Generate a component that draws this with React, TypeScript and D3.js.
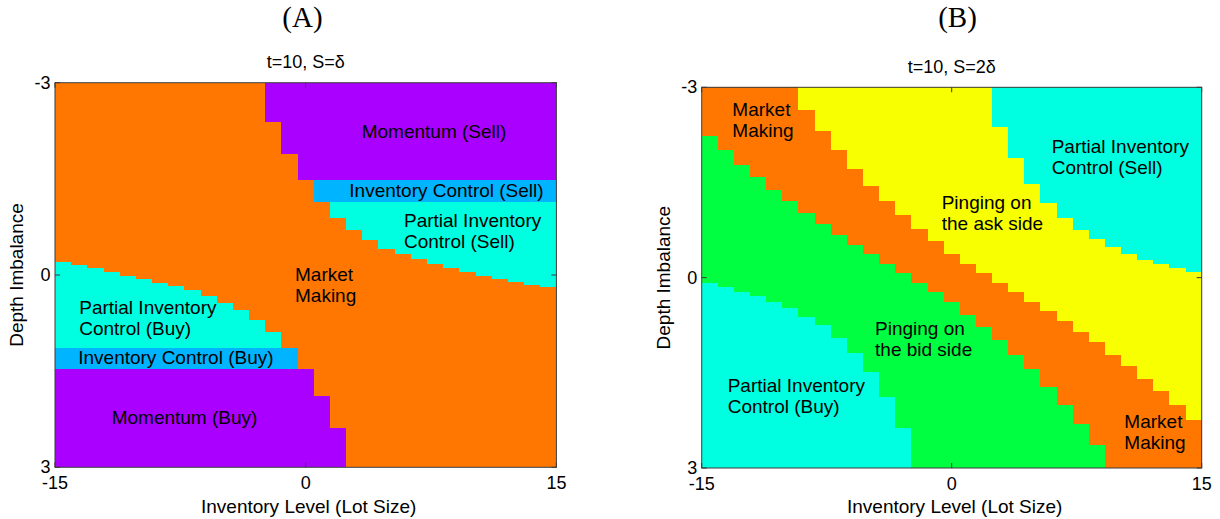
import React from "react";
import * as d3 from "d3";

// Inventory levels (lots) along the horizontal axis, one column each
const inventoryLevels = [
  -15, -14, -13, -12, -11, -10, -9, -8, -7, -6, -5, -4, -3, -2, -1, 0,
  1, 2, 3, 4, 5, 6, 7, 8, 9, 10, 11, 12, 13, 14, 15,
];
const inventoryTicks = [-15, 0, 15];
const depthTicks = [-3, 0, 3];

// Panel A (t=10, S=δ): lower depth-imbalance edge of each regime, per inventory level
const aMomentumSellEnd = [
  -3, -3, -3, -3, -3, -3, -3, -3, -3, -3, -3, -3, -3, -2.38, -1.88, -1.48,
  -1.48, -1.48, -1.48, -1.48, -1.48, -1.48, -1.48, -1.48, -1.48, -1.48, -1.48, -1.48, -1.48, -1.48, -1.48,
];
const aInvControlSellEnd = [
  -3, -3, -3, -3, -3, -3, -3, -3, -3, -3, -3, -3, -3, -2.38, -1.88, -1.48,
  -1.14, -1.14, -1.14, -1.14, -1.14, -1.14, -1.14, -1.14, -1.14, -1.14, -1.14, -1.14, -1.14, -1.14, -1.14,
];
const aPartialSellEnd = [
  -3, -3, -3, -3, -3, -3, -3, -3, -3, -3, -3, -3, -3, -2.38, -1.88, -1.48,
  -1.14, -0.89, -0.7, -0.55, -0.41, -0.32, -0.25, -0.17, -0.11, -0.04, 0.01, 0.06, 0.11, 0.15, 0.19,
];
const aMarketMakingEnd = [
  -0.2, -0.15, -0.11, -0.05, 0.01, 0.06, 0.12, 0.17, 0.24, 0.33, 0.43, 0.55, 0.7, 0.89, 1.14, 1.47,
  1.88, 2.38, 3, 3, 3, 3, 3, 3, 3, 3, 3, 3, 3, 3, 3,
];
const aPartialBuyEnd = [
  1.14, 1.14, 1.14, 1.14, 1.14, 1.14, 1.14, 1.14, 1.14, 1.14, 1.14, 1.14, 1.14, 1.14, 1.14, 1.47,
  1.88, 2.38, 3, 3, 3, 3, 3, 3, 3, 3, 3, 3, 3, 3, 3,
];
const aInvControlBuyEnd = [
  1.47, 1.47, 1.47, 1.47, 1.47, 1.47, 1.47, 1.47, 1.47, 1.47, 1.47, 1.47, 1.47, 1.47, 1.47, 1.47,
  1.88, 2.38, 3, 3, 3, 3, 3, 3, 3, 3, 3, 3, 3, 3, 3,
];

// Panel B (t=10, S=2δ)
const bPartialSellEnd = [
  -3, -3, -3, -3, -3, -3, -3, -3, -3, -3, -3, -3, -3, -3, -3, -3, -3, -3,
  -2.38, -1.88, -1.48, -1.18, -0.94, -0.75, -0.61, -0.48, -0.37, -0.28, -0.21, -0.15, -0.09,
];
const bPingAskEnd = [
  -3, -3, -3, -3, -3, -3, -2.64, -2.31, -2.01, -1.71, -1.45, -1.21, -0.98, -0.77, -0.58, -0.38,
  -0.22, -0.08, 0.09, 0.22, 0.39, 0.52, 0.68, 0.85, 1.02, 1.22, 1.39, 1.59, 1.78, 2.01, 2.24,
];
const bMarketMakingEnd = [
  -2.24, -2.01, -1.78, -1.58, -1.38, -1.21, -1.02, -0.84, -0.67, -0.51, -0.37, -0.21, -0.08, 0.09, 0.22, 0.38,
  0.59, 0.78, 0.98, 1.22, 1.44, 1.72, 2.01, 2.31, 2.64, 3, 3, 3, 3, 3, 3,
];
const bPingBidEnd = [
  0.09, 0.15, 0.22, 0.29, 0.38, 0.48, 0.62, 0.75, 0.95, 1.18, 1.48, 1.88, 2.37, 3, 3, 3,
  3, 3, 3, 3, 3, 3, 3, 3, 3, 3, 3, 3, 3, 3, 3,
];

const COLORS = {
  momentum: "#aa00ff",
  invControl: "#00b4ff",
  partial: "#00ffe1",
  market: "#ff7700",
  pingAsk: "#f7ff00",
  pingBid: "#00ff40",
};

type Regime = { color: string; end: number[] | null };
type Label = { lines: string[]; inv: number; depth: number };

type PanelSpec = {
  letter: string;
  title: string;
  box: { left: number; top: number; width: number; height: number };
  letterX: number;
  regimes: Regime[];
  labels: Label[];
};

const panels: PanelSpec[] = [
  {
    letter: "(A)",
    title: "t=10, S=δ",
    box: { left: 55, top: 82.7, width: 501.4, height: 384.6 },
    letterX: 302.5,
    regimes: [
      { color: COLORS.momentum, end: aMomentumSellEnd },
      { color: COLORS.invControl, end: aInvControlSellEnd },
      { color: COLORS.partial, end: aPartialSellEnd },
      { color: COLORS.market, end: aMarketMakingEnd },
      { color: COLORS.partial, end: aPartialBuyEnd },
      { color: COLORS.invControl, end: aInvControlBuyEnd },
      { color: COLORS.momentum, end: null },
    ],
    labels: [
      { lines: ["Momentum (Sell)"], inv: 3.35, depth: -2.14 },
      { lines: ["Inventory Control (Sell)"], inv: 2.61, depth: -1.22 },
      { lines: ["Partial Inventory", "Control (Sell)"], inv: 5.88, depth: -0.75 },
      { lines: ["Market", "Making"], inv: -0.64, depth: 0.1 },
      { lines: ["Partial Inventory", "Control (Buy)"], inv: -13.55, depth: 0.61 },
      { lines: ["Inventory Control (Buy)"], inv: -13.61, depth: 1.39 },
      { lines: ["Momentum (Buy)"], inv: -11.61, depth: 2.32 },
    ],
  },
  {
    letter: "(B)",
    title: "t=10, S=2δ",
    box: { left: 701.7, top: 87.3, width: 500, height: 380.7 },
    letterX: 957.5,
    regimes: [
      { color: COLORS.partial, end: bPartialSellEnd },
      { color: COLORS.pingAsk, end: bPingAskEnd },
      { color: COLORS.market, end: bMarketMakingEnd },
      { color: COLORS.pingBid, end: bPingBidEnd },
      { color: COLORS.partial, end: null },
    ],
    labels: [
      { lines: ["Market", "Making"], inv: -13.16, depth: -2.55 },
      { lines: ["Partial Inventory", "Control (Sell)"], inv: 6.0, depth: -1.96 },
      { lines: ["Pinging on", "the ask side"], inv: -0.6, depth: -1.08 },
      { lines: ["Pinging on", "the bid side"], inv: -4.6, depth: 0.9 },
      { lines: ["Partial Inventory", "Control (Buy)"], inv: -13.44, depth: 1.8 },
      { lines: ["Market", "Making"], inv: 10.36, depth: 2.37 },
    ],
  },
];

const SANS = "'Liberation Sans', Arial, Helvetica, sans-serif";
const SERIF = "'Liberation Serif', 'Times New Roman', serif";
const FRAME = "#3a3a3a";
const TICK_LEN = 5;

function Panel({ spec }: { spec: PanelSpec }) {
  const { left, top, width, height } = spec.box;
  const right = left + width;
  const bottom = top + height;

  const xBand = d3
    .scaleBand<number>()
    .domain(inventoryLevels)
    .range([left, right])
    .paddingInner(0)
    .paddingOuter(0);
  const xAxis = d3.scaleLinear().domain([-15, 15]).range([left, right]);
  const y = d3.scaleLinear().domain([-3, 3]).range([top, bottom]);
  const bw = xBand.bandwidth();
  const [yMin, yMax] = y.domain();

  type Pt = { x: number; y0: number; y1: number };
  const area = d3
    .area<Pt>()
    .x((d) => d.x)
    .y0((d) => d.y0)
    .y1((d) => d.y1)
    .curve(d3.curveStepAfter);

  let prev: number[] = inventoryLevels.map(() => yMin);
  const paths = spec.regimes.map((r, i) => {
    const upper = prev;
    const lower = r.end ?? inventoryLevels.map(() => yMax);
    prev = lower;
    const pts: Pt[] = inventoryLevels.map((lvl, j) => ({
      x: xBand(lvl) as number,
      y0: y(lower[j]),
      y1: y(upper[j]),
    }));
    const lastIdx = inventoryLevels.length - 1;
    pts.push({
      x: (xBand(inventoryLevels[lastIdx]) as number) + bw,
      y0: y(lower[lastIdx]),
      y1: y(upper[lastIdx]),
    });
    return (
      <path
        key={i}
        d={area(pts) ?? ""}
        fill={r.color}
        shapeRendering="crispEdges"
      />
    );
  });

  const midX = (left + right) / 2;
  const midY = (top + bottom) / 2;

  return (
    <g>
      <text
        x={spec.letterX}
        y={27}
        textAnchor="middle"
        fontFamily={SERIF}
        fontSize={29}
        fill="#000"
      >
        {spec.letter}
      </text>
      <text
        x={midX}
        y={top - 14.4}
        textAnchor="middle"
        fontFamily={SANS}
        fontSize={18}
        fill="#000"
      >
        {spec.title}
      </text>

      {paths}

      {spec.labels.map((lb, i) => (
        <text
          key={i}
          x={xAxis(lb.inv)}
          y={y(lb.depth)}
          fontFamily={SANS}
          fontSize={19}
          fill="#000"
        >
          {lb.lines.map((ln, k) => (
            <tspan key={k} x={xAxis(lb.inv)} dy={k === 0 ? 0 : 21}>
              {ln}
            </tspan>
          ))}
        </text>
      ))}

      <rect
        x={left}
        y={top}
        width={width}
        height={height}
        fill="none"
        stroke={FRAME}
        strokeWidth={1}
      />

      {inventoryTicks.map((t) => (
        <g key={"xt" + t}>
          <line x1={xAxis(t)} x2={xAxis(t)} y1={bottom} y2={bottom - TICK_LEN} stroke={FRAME} />
          <line x1={xAxis(t)} x2={xAxis(t)} y1={top} y2={top + TICK_LEN} stroke={FRAME} />
          <text
            x={xAxis(t)}
            y={bottom + 22}
            textAnchor="middle"
            fontFamily={SANS}
            fontSize={18}
            fill="#000"
          >
            {t}
          </text>
        </g>
      ))}
      {depthTicks.map((t) => (
        <g key={"yt" + t}>
          <line x1={left} x2={left + TICK_LEN} y1={y(t)} y2={y(t)} stroke={FRAME} />
          <line x1={right} x2={right - TICK_LEN} y1={y(t)} y2={y(t)} stroke={FRAME} />
          <text
            x={left - 4.5}
            y={y(t)}
            textAnchor="end"
            dominantBaseline="central"
            fontFamily={SANS}
            fontSize={18}
            fill="#000"
          >
            {t}
          </text>
        </g>
      ))}

      <text
        x={midX + 3}
        y={512.7}
        textAnchor="middle"
        fontFamily={SANS}
        fontSize={19}
        fill="#000"
      >
        Inventory Level (Lot Size)
      </text>
      <text
        transform={`translate(${left - 31.7},${midY}) rotate(-90)`}
        textAnchor="middle"
        fontFamily={SANS}
        fontSize={19}
        fill="#000"
      >
        Depth Imbalance
      </text>
    </g>
  );
}

export default function App() {
  return (
    <svg
      width={1220}
      height={519}
      viewBox="0 0 1220 519"
      style={{ position: "absolute", left: 0, top: 0, background: "#fff" }}
    >
      <rect x={0} y={0} width={1220} height={519} fill="#fff" />
      {panels.map((p) => (
        <Panel key={p.letter} spec={p} />
      ))}
    </svg>
  );
}
